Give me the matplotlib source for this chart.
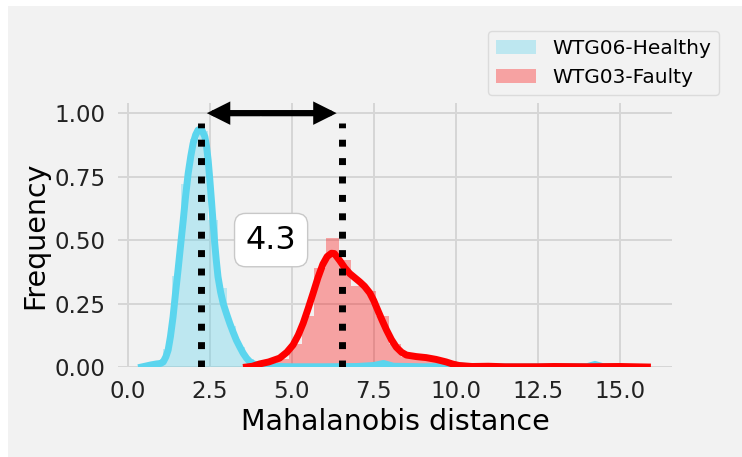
import matplotlib
matplotlib.use("Agg")
import matplotlib.pyplot as plt
from matplotlib.patches import Rectangle

# healthy turbine (WTG06) histogram, bin edges and normalised heights
healthy_edges = [0.50, 0.78, 1.06, 1.34, 1.62, 1.90, 2.18, 2.46, 2.74, 3.02, 3.30, 3.58, 3.86, 4.14]
healthy_heights = [0.008, 0.015, 0.07, 0.36, 0.72, 0.90, 0.93, 0.58, 0.31, 0.16, 0.08, 0.03, 0.01]
healthy_extra_x = [7.58, 14.10]
healthy_extra_h = [0.015, 0.01]

# faulty turbine (WTG03) histogram
faulty_edges = [3.78, 4.16, 4.54, 4.92, 5.30, 5.68, 6.06, 6.44, 6.82, 7.20, 7.58, 7.96,
                8.34, 8.72, 9.10, 9.48, 9.86, 10.24, 10.62, 11.00, 11.38, 11.76, 12.14,
                12.52, 12.90, 13.28, 13.66, 14.04, 14.42, 14.80, 15.18, 15.56]
faulty_heights = [0.005, 0.01, 0.03, 0.09, 0.20, 0.39, 0.51, 0.42, 0.32, 0.30, 0.20, 0.09,
                  0.04, 0.03, 0.03, 0.02, 0.01, 0.004, 0.0, 0.004, 0.0, 0.0, 0.0,
                  0.0, 0.004, 0.0, 0.0, 0.0, 0.0, 0.004, 0.0]

# kde curves
healthy_kde_x = [0.42, 0.70, 0.87, 1.00, 1.08, 1.16, 1.23, 1.30, 1.38, 1.45, 1.53, 1.61, 1.69,
                 1.76, 1.84, 1.92, 1.99, 2.07, 2.14, 2.20, 2.26, 2.35, 2.40, 2.45, 2.50, 2.55,
                 2.60, 2.65, 2.70, 2.75, 2.83, 2.91, 3.01, 3.11, 3.21, 3.31, 3.42, 3.52, 3.62,
                 3.72, 3.84, 3.96, 4.3, 5.0, 6.0, 7.0, 7.5, 7.8, 8.1, 9.0, 9.9, 10.1, 10.4,
                 12.0, 14.0, 14.25, 14.5, 15.0]
healthy_kde_y = [0.0, 0.008, 0.012, 0.014, 0.02, 0.04, 0.067, 0.12, 0.198, 0.285, 0.38, 0.48,
                 0.578, 0.67, 0.762, 0.83, 0.88, 0.915, 0.933, 0.937, 0.933, 0.907, 0.87, 0.815,
                 0.74, 0.657, 0.57, 0.488, 0.418, 0.356, 0.295, 0.25, 0.21, 0.172, 0.138, 0.106,
                 0.078, 0.054, 0.035, 0.021, 0.012, 0.007, 0.003, 0.001, 0.001, 0.002, 0.006,
                 0.014, 0.003, 0.001, 0.002, 0.005, 0.001, 0.0, 0.001, 0.01, 0.001, 0.0]
faulty_kde_x = [3.62, 3.80, 4.02, 4.30, 4.63, 4.85, 5.04, 5.20, 5.35, 5.50, 5.65, 5.80, 5.95,
                6.08, 6.21, 6.30, 6.46, 6.62, 6.77, 6.92, 7.07, 7.22, 7.38, 7.50, 7.63, 7.76,
                7.89, 8.04, 8.19, 8.35, 8.50, 8.80, 9.10, 9.40, 9.71, 9.90, 10.1, 10.5, 11.0,
                11.5, 12.5, 13.0, 14.0, 15.0, 15.85]
faulty_kde_y = [0.0, 0.003, 0.012, 0.02, 0.035, 0.058, 0.087, 0.126, 0.173, 0.23, 0.29, 0.352,
                0.405, 0.435, 0.448, 0.447, 0.42, 0.39, 0.368, 0.352, 0.336, 0.318, 0.292,
                0.262, 0.222, 0.183, 0.146, 0.108, 0.078, 0.058, 0.047, 0.041, 0.037, 0.03,
                0.02, 0.012, 0.006, 0.002, 0.003, 0.001, 0.001, 0.002, 0.001, 0.002, 0.0]

mode_healthy = 2.23
mode_faulty = 6.53
gap_label = "4.3"

BG = "#f2f2f2"
CYAN = "#5bd5ee"
RED = "#ff0000"

fig = plt.figure(figsize=(7.42, 4.57), dpi=100, facecolor="white")
fig.patches.append(Rectangle((8 / 742, 0), 1, 1 - 6 / 457, transform=fig.transFigure,
                             facecolor=BG, edgecolor="none", zorder=-10))
ax = fig.add_axes([118 / 742, 90 / 457, 554 / 742, 264 / 457])
ax.set_facecolor(BG)
for s in ax.spines.values():
    s.set_visible(False)
ax.grid(True, color="#d6d6d6", linewidth=1.4)
ax.set_axisbelow(True)

hw = [healthy_edges[i + 1] - healthy_edges[i] for i in range(len(healthy_heights))]
ax.bar(healthy_edges[:-1], healthy_heights, width=hw, align="edge", color=CYAN, alpha=0.35,
       linewidth=0, label="WTG06-Healthy")
ax.bar(healthy_extra_x, healthy_extra_h, width=0.28, align="edge", color=CYAN, alpha=0.35, linewidth=0)
ax.plot(healthy_kde_x, healthy_kde_y, color=CYAN, linewidth=5, solid_joinstyle="round")

fw = [faulty_edges[i + 1] - faulty_edges[i] for i in range(len(faulty_heights))]
ax.bar(faulty_edges[:-1], faulty_heights, width=fw, align="edge", color=RED, alpha=0.33,
       linewidth=0, label="WTG03-Faulty")
ax.plot(faulty_kde_x, faulty_kde_y, color=RED, linewidth=5, solid_joinstyle="round")

for xm in (mode_healthy, mode_faulty):
    ax.plot([xm, xm], [0, 0.96], color="black", linestyle=":", linewidth=5, zorder=6)

arrow = dict(arrowstyle="-|>", color="black", lw=4.5, mutation_scale=24,
             shrinkA=0, shrinkB=0, joinstyle="miter")
ax.annotate("", xy=(2.41, 1.0), xytext=(4.04, 1.0), arrowprops=arrow, zorder=7)
ax.annotate("", xy=(6.37, 1.0), xytext=(4.08, 1.0), arrowprops=arrow, zorder=7)

ax.text(4.37, 0.5, gap_label, fontsize=23, ha="center", va="center", zorder=8,
        bbox=dict(boxstyle="round,pad=0.35", facecolor="white", edgecolor="#c8c8c8"))

ax.set_xlim(-0.3, 16.6)
ax.set_ylim(0, 1.04)
ax.set_xticks([0, 2.5, 5, 7.5, 10, 12.5, 15])
ax.set_yticks([0, 0.25, 0.5, 0.75, 1.0])
ax.set_yticklabels(["0.00", "0.25", "0.50", "0.75", "1.00"])
ax.tick_params(length=0, labelsize=16.5, pad=9, colors="#222222")
ax.set_xlabel("Mahalanobis distance", fontsize=20.5, labelpad=4)
ax.set_ylabel("Frequency", fontsize=20.5, labelpad=4)

h, l = ax.get_legend_handles_labels()
leg = fig.legend(h, l, loc="upper right", bbox_to_anchor=(719 / 742, 1 - 31 / 457),
                 borderaxespad=0, fontsize=14.5, frameon=True, fancybox=True)
leg.get_frame().set_facecolor(BG)
leg.get_frame().set_edgecolor("#d6d6d6")

fig.savefig("out.png", dpi=100, facecolor=fig.get_facecolor())
